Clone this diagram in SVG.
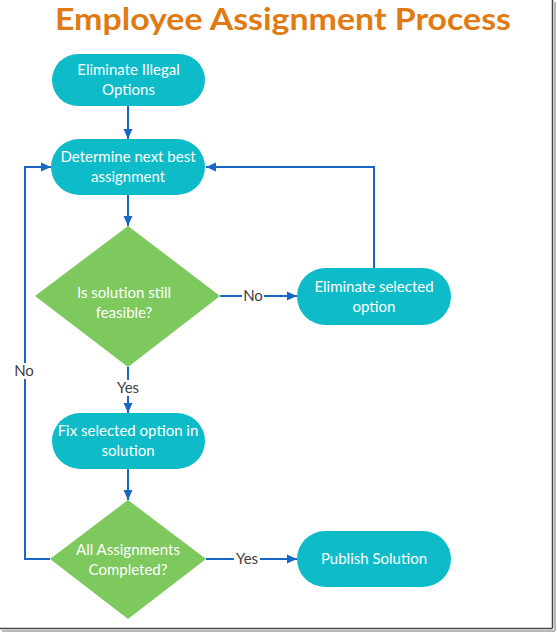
<svg xmlns="http://www.w3.org/2000/svg" width="557" height="633" viewBox="0 0 557 633">
<defs>
<marker id="ah" markerUnits="userSpaceOnUse" markerWidth="10" markerHeight="10" viewBox="0 0 10 10" refX="10" refY="5" orient="auto">
<path d="M0,0.5 L10,5 L0,9.5 Z" fill="#1A66C4"/>
</marker>
<style>
.pill{fill:#0DBCC8;}
.dia{fill:#7DC95E;}
.nt{font-family:"Lato","Open Sans","Liberation Sans",sans-serif;font-size:15px;fill:#ffffff;text-anchor:middle;}
.con{fill:none;stroke:#1A66C4;stroke-width:2;}
.arr{marker-end:url(#ah);}
.lbl{font-family:"Lato","Open Sans","Liberation Sans",sans-serif;font-size:15px;fill:#404040;text-anchor:middle;}
.title{font-family:"Lato","Open Sans","Liberation Sans",sans-serif;font-size:31px;font-weight:bold;fill:#E07B14;text-anchor:middle;}
</style>
</defs>
<rect width="557" height="633" fill="#ffffff"/>
<g id="frame">
<line x1="555" y1="2" x2="555" y2="631" stroke="#b8b8b8" stroke-width="2"/>
<line x1="2" y1="631" x2="555" y2="631" stroke="#b8b8b8" stroke-width="2"/>
<line x1="552.5" y1="0" x2="552.5" y2="628.5" stroke="#444" stroke-width="1.5"/>
<line x1="0" y1="628.5" x2="552.5" y2="628.5" stroke="#444" stroke-width="1.5"/>
</g>
<text class="title" x="283" y="30" textLength="456" lengthAdjust="spacingAndGlyphs">Employee Assignment Process</text>
<g id="connectors">
<path class="con arr" d="M128,106 L128,139"/>
<path class="con arr" d="M128,195 L128,226"/>
<path class="con arr" d="M220,296 L297,296"/>
<path class="con arr" d="M374,268 L374,167 L206,167"/>
<path class="con arr" d="M128,367 L128,413"/>
<path class="con arr" d="M128,469 L128,500"/>
<path class="con arr" d="M50,559 L25,559 L25,167 L51,167"/>
<path class="con arr" d="M206,559 L297,559"/>
<rect x="242" y="288" width="22" height="16" fill="#ffffff"/>
<text class="lbl" x="253" y="301">No</text>
<rect x="115" y="380" width="26" height="16" fill="#ffffff"/>
<text class="lbl" x="128" y="393">Yes</text>
<rect x="13" y="363" width="24" height="16" fill="#ffffff"/>
<text class="lbl" x="24" y="376">No</text>
<rect x="234" y="551" width="26" height="16" fill="#ffffff"/>
<text class="lbl" x="247" y="564">Yes</text>
</g>
<g id="n1">
<rect class="pill" x="52" y="54" width="153" height="52" rx="26"/>
<text class="nt" x="128.5" y="75">Eliminate Illegal</text>
<text class="nt" x="128.5" y="95">Options</text>
</g>
<g id="n2">
<rect class="pill" x="51" y="139" width="154" height="56" rx="28"/>
<text class="nt" x="128" y="162">Determine next best</text>
<text class="nt" x="128" y="182">assignment</text>
</g>
<g id="d1">
<polygon class="dia" points="128,226 220,296 128,367 35,296"/>
<text class="nt" x="124" y="298">Is solution still</text>
<text class="nt" x="124" y="318">feasible?</text>
</g>
<g id="n3">
<rect class="pill" x="297" y="268" width="154" height="57" rx="28.5"/>
<text class="nt" x="374" y="292">Eliminate selected</text>
<text class="nt" x="374" y="312">option</text>
</g>
<g id="n4">
<rect class="pill" x="52" y="413" width="153" height="56" rx="28"/>
<text class="nt" x="128" y="436">Fix selected option in</text>
<text class="nt" x="128" y="456">solution</text>
</g>
<g id="d2">
<polygon class="dia" points="128,500 206,559 128,619 50,559"/>
<text class="nt" x="128" y="555">All Assignments</text>
<text class="nt" x="128" y="575">Completed?</text>
</g>
<g id="n5">
<rect class="pill" x="297" y="531" width="154" height="56" rx="28"/>
<text class="nt" x="374" y="564">Publish Solution</text>
</g>
</svg>
